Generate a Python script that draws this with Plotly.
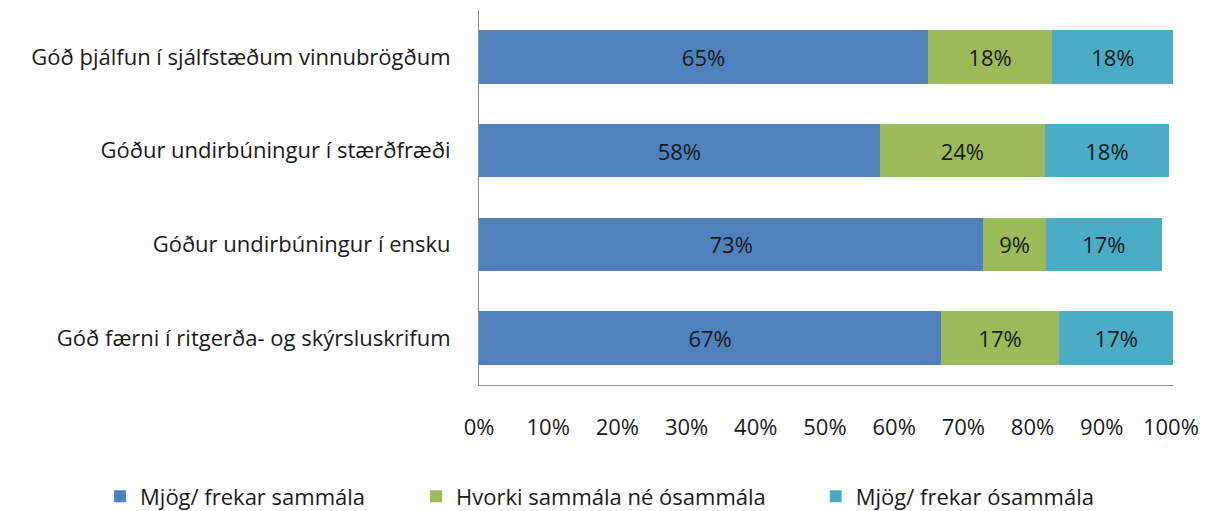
import plotly.graph_objects as go

categories = [
    "Góð færni í ritgerða- og skýrsluskrifum",
    "Góður undirbúningur í ensku",
    "Góður undirbúningur í stærðfræði",
    "Góð þjálfun í sjálfstæðum vinnubrögðum",
]
series_names = ["Mjög/ frekar sammála", "Hvorki sammála né ósammála", "Mjög/ frekar ósammála"]
agree = [66.8, 72.9, 57.9, 64.9]
neutral = [17.0, 9.0, 23.9, 17.9]
disagree = [16.6, 16.8, 17.9, 17.6]
colors = ["#4F81BD", "#9BBB59", "#4BACC6"]
tick_vals = [0, 10, 20, 30, 40, 50, 60, 70, 80, 90, 100]
tick_text = [f"{v}%" for v in tick_vals]

FONT = "Open Sans"
FS = 22

legend_ids = ["legend", "legend2", "legend3"]
legend_x = [0.076, 0.337, 0.667]

fig = go.Figure()
for name, vals, col, lid in zip(series_names, [agree, neutral, disagree], colors, legend_ids):
    fig.add_trace(go.Bar(
        y=categories, x=vals, name=name, orientation="h",
        marker=dict(color=col, line=dict(width=0)),
        texttemplate="%{x:.0f}%", textposition="inside", insidetextanchor="middle",
        textfont=dict(family=FONT, size=FS, color="#1a1a1a"),
        width=0.57, legend=lid, showlegend=True,
    ))

legend_common = dict(
    orientation="h", xref="container", yref="container", xanchor="left",
    y=0.029, yanchor="middle",
    font=dict(family=FONT, size=FS, color="#1a1a1a"),
    itemwidth=30, bgcolor="rgba(0,0,0,0)", visible=True,
)

fig.update_layout(
    barmode="stack",
    showlegend=True,
    width=1211, height=503,
    margin=dict(l=471, r=46, t=2, b=126, autoexpand=False),
    paper_bgcolor="white", plot_bgcolor="white",
    font=dict(family=FONT, size=FS, color="#1a1a1a"),
    uniformtext=dict(mode=False),
    legend=dict(x=legend_x[0], **legend_common),
    legend2=dict(x=legend_x[1], **legend_common),
    legend3=dict(x=legend_x[2], **legend_common),
    xaxis=dict(
        range=[0, 100.3], tickvals=tick_vals, ticktext=tick_text,
        showgrid=False, zeroline=False, showline=True, linecolor="#8c8c8c", linewidth=1,
        ticks="", ticklabelstandoff=23, tickfont=dict(family=FONT, size=FS),
    ),
    yaxis=dict(
        showgrid=False, zeroline=False, showline=True, linecolor="#8c8c8c", linewidth=1,
        ticks="", ticklabelstandoff=23, tickfont=dict(family=FONT, size=FS),
        categoryorder="array", categoryarray=categories,
    ),
)

fig.write_html("out.html")
